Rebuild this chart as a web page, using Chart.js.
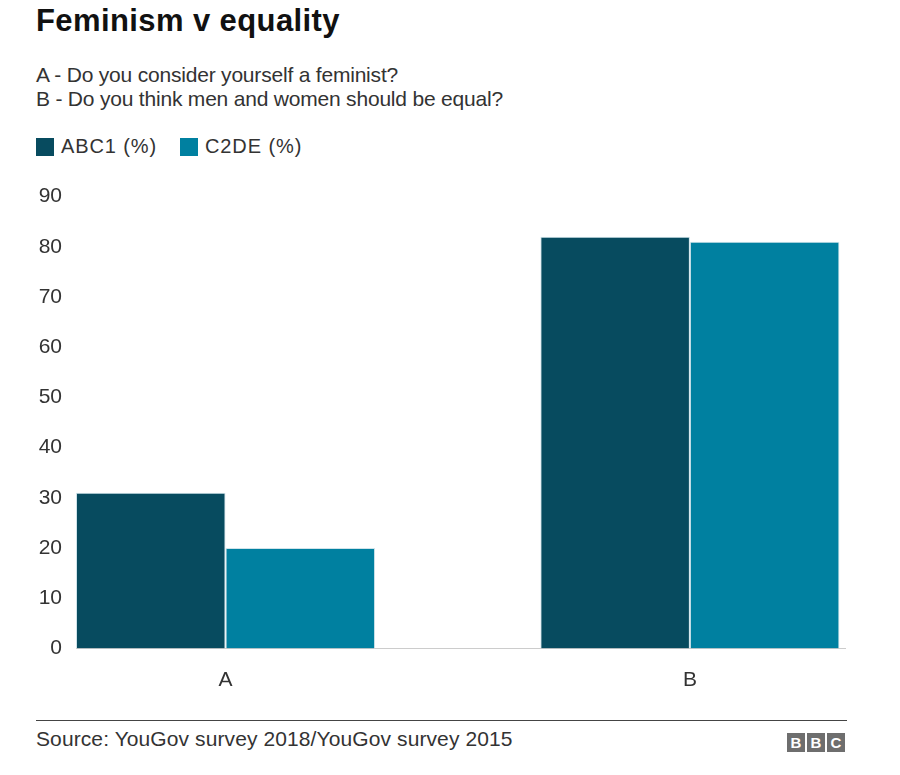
<!DOCTYPE html>
<html>
<head>
<meta charset="utf-8">
<script src="https://cdn.jsdelivr.net/npm/chart.js@4"></script>
<style>
  body { margin: 0; background: #fff; font-family: "Liberation Sans", Arial, sans-serif; color: #222; }
  #page { position: relative; width: 900px; height: 775px; overflow: hidden; }
  .abs { position: absolute; white-space: nowrap; }
  #title { left: 36px; top: 3px; font-size: 31px; letter-spacing: 0.4px; font-weight: bold; color: #111; }
  .sub { left: 36px; font-size: 21px; letter-spacing: -0.2px; color: #333; }
  .legend { top: 135px; font-size: 20px; letter-spacing: 0.9px; color: #333; display: flex; align-items: center; }
  .legend i { display: inline-block; width: 18px; height: 18px; margin-right: 7px; }
  #chart-box { position: absolute; left: 0; top: 170px; width: 900px; height: 530px; }
  #rule { left: 36px; top: 720px; width: 811px; height: 1px; background: #444; }
  #source { left: 36px; top: 727px; font-size: 21px; letter-spacing: 0.1px; color: #333; }
  #bbc { left: 787px; top: 733px; display: flex; gap: 2px; }
  #bbc span { width: 18px; height: 19px; background: #6e6e6e; color: #fff; font-weight: bold; font-size: 15px; text-align: center; line-height: 19px; }
</style>
</head>
<body>
<div id="page">
  <div class="abs" id="title">Feminism v equality</div>
  <div class="abs sub" style="top:63px">A - Do you consider yourself a feminist?</div>
  <div class="abs sub" style="top:87px">B - Do you think men and women should be equal?</div>
  <div class="abs legend" style="left:36px"><i style="background:#074b5f"></i>ABC1 (%)</div>
  <div class="abs legend" style="left:180px"><i style="background:#0080a0"></i>C2DE (%)</div>
  <div id="chart-box"><canvas id="chart"></canvas></div>
  <div class="abs" id="rule"></div>
  <div class="abs" id="source">Source: YouGov survey 2018/YouGov survey 2015</div>
  <div class="abs" id="bbc"><span>B</span><span>B</span><span>C</span></div>
</div>
<script>
const categories = ["A", "B"];
const abc1 = [31, 82];
const c2de = [20, 81];
const yTicks = [0, 10, 20, 30, 40, 50, 60, 70, 80, 90];

const tickFont = { family: "Liberation Sans", size: 21 };

// bars sit on a linear x axis so the two groups can keep the original's uneven spacing
const toPoints = (values) => values.map((v, i) => ({ x: i, y: v }));

new Chart(document.getElementById("chart"), {
  type: "bar",
  data: {
    datasets: [
      {
        label: "ABC1 (%)",
        data: toPoints(abc1),
        backgroundColor: "#074b5f",
        borderColor: "#cfe3ea",
        borderWidth: 1
      },
      {
        label: "C2DE (%)",
        data: toPoints(c2de),
        backgroundColor: "#0080a0",
        borderColor: "#cfe3ea",
        borderWidth: 1
      }
    ]
  },
  options: {
    responsive: true,
    maintainAspectRatio: false,
    animation: false,
    categoryPercentage: 0.644,
    barPercentage: 1,
    layout: { padding: { top: 23, right: 55, bottom: 0, left: 0 } },
    plugins: {
      legend: { display: false },
      tooltip: { enabled: false }
    },
    scales: {
      x: {
        type: "linear",
        min: -0.322,
        max: 1.334,
        offset: false,
        grid: { display: false, drawTicks: false, offset: false },
        border: { display: true, color: "#cccccc", width: 1 },
        afterBuildTicks: (scale) => {
          scale.ticks = categories.map((c, i) => ({ value: i }));
        },
        afterFit: (scale) => { scale.height = 51.5; },
        ticks: {
          padding: 19,
          color: "#333",
          font: tickFont,
          callback: (value) => categories[value]
        }
      },
      y: {
        min: 0,
        max: 90,
        grid: { display: false, drawTicks: false },
        border: { display: false },
        afterBuildTicks: (scale) => {
          scale.ticks = yTicks.map((v) => ({ value: v }));
        },
        afterFit: (scale) => { scale.width = 76; },
        ticks: {
          padding: 14,
          color: "#333",
          font: tickFont
        }
      }
    }
  }
});
</script>
</body>
</html>
